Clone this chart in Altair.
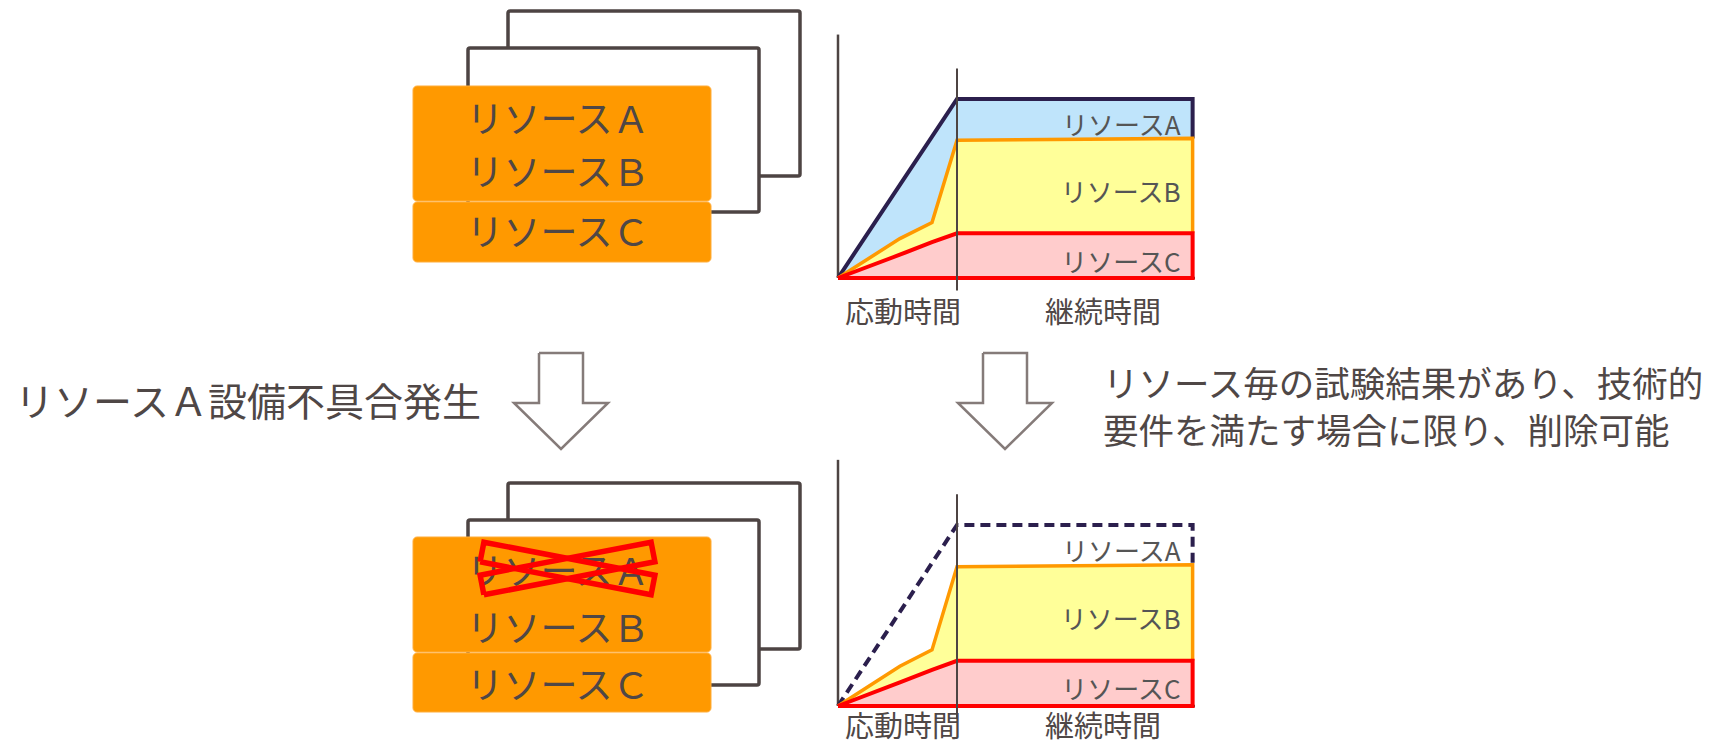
import altair as alt
import pandas as pd
import numpy as np

# ---------------- data ----------------
# relative time: 0..1 = response phase (応動時間), 1..end = duration (継続時間)
t_pts = [0.0, 0.52, 0.79, 1.0, 2.98]
top_C = [0, 13, 20, 25, 25]      # cumulative top of resource C
top_B = [0, 22, 31, 77, 78]      # cumulative top of resource B
top_A = [0, 52, 79, 100, 100]    # cumulative top of resource A
series_names = ["リソースA", "リソースB", "リソースC"]
phase_labels = ["応動時間", "継続時間"]
card_labels = ["リソースＡ", "リソースＢ", "リソースＣ"]
caption_left = ["リソースＡ設備不具合発生"]
caption_right = ["リソース毎の試験結果があり、技術的", "要件を満たす場合に限り、削除可能"]

# ---------------- layout / style ----------------
W, H, M = 1736, 753, 8
FONT = "Noto Sans CJK JP"
INK = "#4f4746"
AXIS = "#4d4443"
ORANGE = "#ff9900"
FILL = {"A": "#bfe4fb", "B": "#ffff99", "C": "#ffcccc"}
LINE = {"A": "#2b1f4d", "B": "#ff9900", "C": "#ff0000"}
TEXT_DY = 4

XC = alt.Scale(domain=[0, W], range=[-M, W - M], nice=False, zero=False)
YC = alt.Scale(domain=[0, H], range=[-M, H - M], nice=False, zero=False)

def cx(f="px"):
    return alt.X(f"{f}:Q", scale=XC, axis=None)

def cy(f="py"):
    return alt.Y(f"{f}:Q", scale=YC, axis=None)

panels = [
    dict(back=(508, 11, 800, 176), mid=(468, 48, 759, 212),
         ab=(413, 86, 711, 201), c=(413, 202, 711, 262), text_y=[118, 171, 231]),
    dict(back=(508, 483, 800, 649), mid=(468, 520, 759, 685),
         ab=(413, 537, 711, 652), c=(413, 653, 711, 712), text_y=[570, 627, 684]),
]
CARD_TEXT_X = 558

frame_rows, orange_rows, card_text_rows = [], [], []
for p in panels:
    for k in ("back", "mid"):
        x1, y1, x2, y2 = p[k]
        frame_rows.append(dict(px=x1, py=y1, px2=x2, py2=y2))
    for k in ("ab", "c"):
        x1, y1, x2, y2 = p[k]
        orange_rows.append(dict(px=x1, py=y1, px2=x2, py2=y2))
    for lab, ty in zip(card_labels, p["text_y"]):
        card_text_rows.append(dict(px=CARD_TEXT_X, py=ty, label=lab))

frames = []
for r in frame_rows:
    frames.append(
        alt.Chart(pd.DataFrame([r])).mark_rect(
            fill="white", stroke=AXIS, strokeWidth=3.5, cornerRadius=2
        ).encode(x=cx(), x2="px2:Q", y=cy(), y2="py2:Q")
    )
frame_layer = alt.layer(*frames)

orange_layer = alt.Chart(pd.DataFrame(orange_rows)).mark_rect(
    fill=ORANGE, stroke="#ffad3a", strokeWidth=1, cornerRadius=4
).encode(x=cx(), x2="px2:Q", y=cy(), y2="py2:Q")

card_text_layer = alt.Chart(pd.DataFrame(card_text_rows)).mark_text(
    font=FONT, fontSize=37, color=INK, align="center", baseline="middle", dy=TEXT_DY
).encode(x=cx(), y=cy(), text="label:N")

# red cross over resource A in the bottom panel
cross_bars = [((482, 552), (653, 585)), ((482, 585), (653, 552))]
CROSS_HALF = 10
cross_rows = []
for g, (P, Q) in enumerate(cross_bars):
    P, Q = np.array(P, float), np.array(Q, float)
    d = Q - P
    n = np.array([-d[1], d[0]]) / np.linalg.norm(d) * CROSS_HALF
    pts = [P + n, Q + n, Q - n, P - n, P + n]
    for i, pt in enumerate(pts):
        cross_rows.append(dict(g=g, i=i, px=pt[0], py=pt[1]))
cross_layer = alt.Chart(pd.DataFrame(cross_rows)).mark_line(
    color="#ff0000", strokeWidth=5.5, strokeJoin="miter"
).encode(x=cx(), y=cy(), detail="g:N", order="i:Q")

# hollow down arrows
arrow_centers = [561, 1005]
ARROW_TOP, ARROW_NECK, ARROW_TIP = 353, 403, 449
STEM_HALF, HEAD_HALF = 22, 47
arrow_rows = []
for g, ac in enumerate(arrow_centers):
    pts = [(ac - STEM_HALF, ARROW_TOP), (ac + STEM_HALF, ARROW_TOP),
           (ac + STEM_HALF, ARROW_NECK), (ac + HEAD_HALF, ARROW_NECK),
           (ac, ARROW_TIP), (ac - HEAD_HALF, ARROW_NECK),
           (ac - STEM_HALF, ARROW_NECK), (ac - STEM_HALF, ARROW_TOP)]
    for i, (x, y) in enumerate(pts):
        arrow_rows.append(dict(g=g, i=i, px=x, py=y))
arrow_layer = alt.Chart(pd.DataFrame(arrow_rows)).mark_line(
    color="#857b79", strokeWidth=2.5, strokeJoin="miter"
).encode(x=cx(), y=cy(), detail="g:N", order="i:Q")

# captions
left_cap = alt.Chart(pd.DataFrame(dict(px=[15], py=[400], label=caption_left))).mark_text(
    font=FONT, fontSize=39, color=INK, align="left", baseline="middle", dy=TEXT_DY
).encode(x=cx(), y=cy(), text="label:N")
right_cap = alt.Chart(pd.DataFrame(dict(px=[1103, 1103], py=[382, 429], label=caption_right))).mark_text(
    font=FONT, fontSize=35.5, color=INK, align="left", baseline="middle", dy=TEXT_DY
).encode(x=cx(), y=cy(), text="label:N")

# phase labels under mini charts
phase_x = [903, 1103]
phase_y = [310, 724]
phase_rows = [dict(px=x, py=y, label=l) for y in phase_y for x, l in zip(phase_x, phase_labels)]
phase_layer = alt.Chart(pd.DataFrame(phase_rows)).mark_text(
    font=FONT, fontSize=29, color=INK, align="center", baseline="middle", dy=TEXT_DY
).encode(x=cx(), y=cy(), text="label:N")

canvas = alt.layer(frame_layer, orange_layer, card_text_layer, cross_layer,
                   arrow_layer, left_cap, right_cap, phase_layer)

# ---------------- mini stacked-area charts ----------------
UNIT_X = 119            # px per response-phase unit
AXIS_TOP_V, DIV_TOP_V, DIV_BOT_V, BASE_END_T = 136, 117, -7, 3.0

prof = pd.DataFrame({"t": t_pts, "A": top_A, "B": top_B, "C": top_C})
prof["z"] = 0
t_end = t_pts[-1]

def outline(vals, lower_end, close=False):
    rows = [dict(t=t, v=v) for t, v in zip(t_pts, vals)]
    rows.append(dict(t=t_end, v=lower_end))
    if close:
        rows.append(dict(t=0.0, v=0))
    for i, r in enumerate(rows):
        r["i"] = i
    return pd.DataFrame(rows)

def mini_chart(ox, oy, sy, dashed_a):
    xs = alt.Scale(domain=[0, 1], range=[ox - M, ox + UNIT_X - M], nice=False, zero=False)
    ys = alt.Scale(domain=[0, 100], range=[oy - M, oy - 100 * sy - M], nice=False, zero=False)
    X = lambda f="t": alt.X(f"{f}:Q", scale=xs, axis=None)
    Y = lambda f="v": alt.Y(f"{f}:Q", scale=ys, axis=None)
    layers = []
    if not dashed_a:
        layers.append(alt.Chart(prof).mark_area(color=FILL["A"], opacity=1).encode(
            x=X(), y=Y("A"), y2="B:Q"))
    layers.append(alt.Chart(prof).mark_area(color=FILL["B"], opacity=1).encode(
        x=X(), y=Y("B"), y2="C:Q"))
    layers.append(alt.Chart(prof).mark_area(color=FILL["C"], opacity=1).encode(
        x=X(), y=Y("C"), y2="z:Q"))
    axes = pd.DataFrame([
        dict(t=0, t2=0, v=0, v2=AXIS_TOP_V),
        dict(t=0, t2=BASE_END_T, v=0, v2=0),
    ])
    layers.append(alt.Chart(axes).mark_rule(color=AXIS, strokeWidth=2.5).encode(
        x=X(), x2="t2:Q", y=Y(), y2="v2:Q"))
    a_kw = dict(color=LINE["A"], strokeWidth=4, strokeJoin="miter")
    if dashed_a:
        a_kw["strokeDash"] = [10, 6]
    layers.append(alt.Chart(outline(top_A, top_B[-1])).mark_line(**a_kw).encode(
        x=X(), y=Y(), order="i:Q"))
    layers.append(alt.Chart(outline(top_B, top_C[-1])).mark_line(
        color=LINE["B"], strokeWidth=3.5, strokeJoin="miter").encode(
        x=X(), y=Y(), order="i:Q"))
    layers.append(alt.Chart(outline(top_C, 0, close=True)).mark_line(
        color=LINE["C"], strokeWidth=4, strokeJoin="miter").encode(
        x=X(), y=Y(), order="i:Q"))
    div = pd.DataFrame([dict(t=1, v=DIV_BOT_V, v2=DIV_TOP_V)])
    layers.append(alt.Chart(div).mark_rule(color=AXIS, strokeWidth=2).encode(
        x=X(), y=Y(), y2="v2:Q"))
    labs = pd.DataFrame(dict(
        t=[t_end] * 3,
        v=[(top_A[-1] + top_B[-1]) / 2, (top_B[-1] + top_C[-1]) / 2, top_C[-1] / 2],
        label=series_names))
    layers.append(alt.Chart(labs).mark_text(
        font=FONT, fontSize=26, color="#555555", align="right", baseline="middle",
        dx=-12, dy=8).encode(x=X(), y=Y(), text="label:N"))
    return alt.layer(*layers)

mini_top = mini_chart(838, 278, 1.79, dashed_a=False)
mini_bot = mini_chart(838, 706, 1.81, dashed_a=True)

chart = alt.layer(canvas, mini_top, mini_bot).resolve_scale(
    x="independent", y="independent"
).properties(
    width=W - 2 * M, height=H - 2 * M, padding=0,
    autosize=alt.AutoSizeParams(type="none"), background="white"
).configure_view(stroke=None)

chart.save("out.html", embed_options={"renderer": "svg", "actions": False})
